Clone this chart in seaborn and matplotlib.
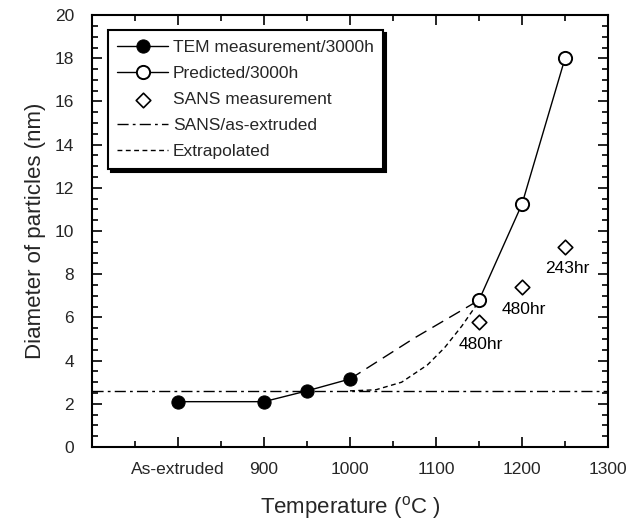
import matplotlib
matplotlib.use("Agg")
import matplotlib.pyplot as plt
import seaborn as sns
import pandas as pd
import numpy as np
from matplotlib.ticker import MultipleLocator, FixedLocator, FixedFormatter

# ---------------- data ----------------
tem_x = [800, 900, 950, 1000]
tem_y = [2.1, 2.1, 2.6, 3.15]

pred_x = [1150, 1200, 1250]
pred_y = [6.8, 11.25, 18.0]

link_x = [1000, 1075, 1150]
link_y = [3.15, 5.05, 6.8]

sans_x = [1150, 1200, 1250]
sans_y = [5.8, 7.4, 9.25]
sans_labels = ["480hr", "480hr", "243hr"]

sans_asext = 2.6

extrap_x = [1000, 1030, 1060, 1090, 1110, 1130, 1150]
extrap_y = [2.6, 2.65, 3.0, 3.8, 4.6, 5.6, 6.75]

xtick_vals = [800, 900, 1000, 1100, 1200, 1300]
xtick_labels = ["As-extruded", "900", "1000", "1100", "1200", "1300"]

# ---------------- style ----------------
sns.set_style("ticks")
plt.rcParams["font.family"] = ["Liberation Sans", "DejaVu Sans"]
plt.rcParams["mathtext.fontset"] = "custom"
plt.rcParams["mathtext.rm"] = "Liberation Sans"

fig = plt.figure(figsize=(6.43, 5.21), dpi=100)
ax = fig.add_axes([0.143, 0.142, 0.8026, 0.829])

lw = 1.0
sns.lineplot(x=link_x, y=link_y, ax=ax, color="black", lw=lw,
             linestyle=(0, (9, 5)), sort=False)
sns.lineplot(x=extrap_x, y=extrap_y, ax=ax, color="black", lw=lw,
             linestyle=(0, (3.5, 2.5)), sort=False, label="Extrapolated_tmp")
ax.axhline(sans_asext, color="black", lw=lw, linestyle=(0, (8, 3, 2, 3)),
           label="SANS/as-extruded")
sns.lineplot(x=tem_x, y=tem_y, ax=ax, color="black", lw=lw, marker="o",
             markersize=9.5, markerfacecolor="black", markeredgecolor="black",
             sort=False, label="TEM measurement/3000h")
sns.lineplot(x=pred_x, y=pred_y, ax=ax, color="black", lw=lw, marker="o",
             markersize=9.5, markerfacecolor="white", markeredgecolor="black",
             markeredgewidth=1.4, sort=False, label="Predicted/3000h")
sns.scatterplot(x=sans_x, y=sans_y, ax=ax, marker="D", s=55,
                facecolor="white", edgecolor="black", linewidth=1.2,
                label="SANS measurement", zorder=5)

offsets = [(1, -11), (1, -11), (2, -10)]
for x, y, t, (dx, dy) in zip(sans_x, sans_y, sans_labels, offsets):
    ax.annotate(t, (x, y), xytext=(dx, dy), textcoords="offset points",
                ha="center", va="top", fontsize=12.5, color="black")

# ---------------- axes ----------------
ax.set_xlim(700, 1300)
ax.set_ylim(0, 20)
ax.xaxis.set_major_locator(FixedLocator(xtick_vals))
ax.xaxis.set_major_formatter(FixedFormatter(xtick_labels))
ax.xaxis.set_minor_locator(MultipleLocator(50))
ax.yaxis.set_major_locator(MultipleLocator(2))
ax.yaxis.set_minor_locator(MultipleLocator(0.5))

for s in ax.spines.values():
    s.set_linewidth(1.5)
    s.set_color("black")

ax.tick_params(which="both", direction="in", top=True, right=True,
               color="black", width=1.2)
ax.tick_params(which="major", length=7)
ax.tick_params(which="minor", length=4)
ax.tick_params(axis="y", which="major", labelsize=12.5, pad=13)
ax.tick_params(axis="x", which="major", labelsize=12.5, pad=11)

ax.set_xlabel("Temperature ($^{\\rm o}$C )", fontsize=16, labelpad=12)
ax.set_ylabel("Diameter of particles (nm)", fontsize=16, labelpad=6)

# ---------------- legend ----------------
handles, labels = ax.get_legend_handles_labels()
hmap = dict(zip(labels, handles))
order = ["TEM measurement/3000h", "Predicted/3000h", "SANS measurement",
         "SANS/as-extruded", "Extrapolated_tmp"]
names = ["TEM measurement/3000h", "Predicted/3000h", "SANS measurement",
         "SANS/as-extruded", "Extrapolated"]
leg = ax.legend([hmap[k] for k in order], names, loc="upper left",
                bbox_to_anchor=(0.031, 0.965), borderaxespad=0,
                fontsize=12.5, frameon=True, fancybox=False,
                shadow={"color": "black", "alpha": 1},
                handlelength=2.9, handletextpad=0.3, labelspacing=0.63,
                borderpad=0.55)
leg.get_frame().set_edgecolor("black")
leg.get_frame().set_linewidth(1.5)
leg.get_frame().set_alpha(1)

fig.savefig("out.png", dpi=100)
